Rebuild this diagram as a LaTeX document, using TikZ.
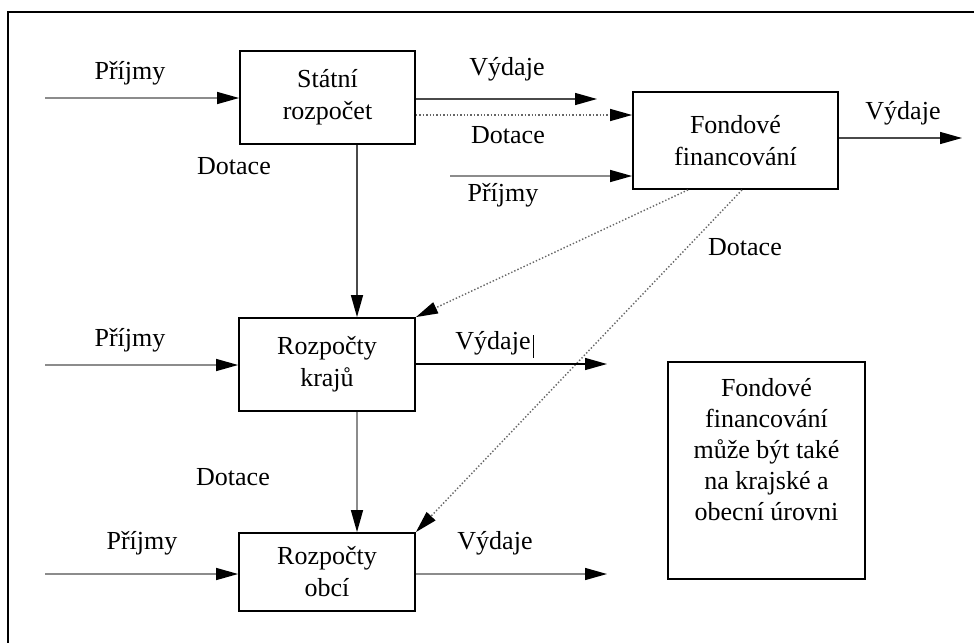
\documentclass[tikz,border=0pt]{standalone}
\usepackage{fontspec}
\setmainfont{Liberation Serif}
\usetikzlibrary{arrows.meta}
\definecolor{lgray}{HTML}{8C8C8C}
\definecolor{dgray}{HTML}{4A4A4A}
\tikzset{
  box/.style={draw=black, line width=0.9pt, align=center, inner sep=0pt, font=\fontsize{13}{16}\selectfont},
  lbl/.style={font=\fontsize{13}{16}\selectfont, inner sep=0pt},
  arr/.style={line width=0.7pt, -{Triangle[length=11pt,width=6pt,color=black]}},
  dots/.style={draw=gray!80!black, line width=0.7pt, densely dotted},
}
\begin{document}
\begin{tikzpicture}[x=0.5pt, y=-0.5pt]
\useasboundingbox (0,0) rectangle (974,643);
% frame (top and left edges)
\draw[line width=1.1pt] (974,12) -- (8,12) -- (8,643);

% boxes
\node[box, minimum width=87.5pt, minimum height=46.5pt] (stat) at (327.5,97.5) {Státní\\rozpočet};
\node[box, minimum width=102.5pt, minimum height=48.5pt] (fond) at (735.5,140.5) {Fondové\\financování};
\node[box, minimum width=88pt, minimum height=46.5pt] (kraj) at (327,364.5) {Rozpočty\\krajů};
\node[box, minimum width=88pt, minimum height=39pt] (obce) at (327,572) {Rozpočty\\obcí};
\node[box, minimum width=98.5pt, minimum height=108.5pt, anchor=north] (note) at (766.5,361) {};
\node[lbl, align=center, font=\fontsize{13}{15.5}\selectfont, anchor=north] (notetext) at (766.5,378) {Fondové\\financování\\může být také\\na krajské a\\obecní úrovni};

% labels
\node[lbl] (p1) at (130,73) {Příjmy};
\node[lbl] (d1) at (234,166) {Dotace};
\node[lbl] (v1) at (507,69) {Výdaje};
\node[lbl] (d2) at (508,135) {Dotace};
\node[lbl] (p2) at (503,195) {Příjmy};
\node[lbl] (v2) at (903,113) {Výdaje};
\node[lbl] (d3) at (745,247) {Dotace};
\node[lbl] (p3) at (130,340) {Příjmy};
\node[lbl] (v3) at (493,343) {Výdaje};
\node[lbl] (d4) at (233,477) {Dotace};
\node[lbl] (p4) at (142,543) {Příjmy};
\node[lbl] (v4) at (495,543) {Výdaje};
\draw[line width=0.5pt] (533,335) -- (533,358);

% free ends
\coordinate (p1s) at (45,98);
\coordinate (v1e) at (597,99);
\coordinate (p2s) at (450,176);
\coordinate (v2e) at (962,138);
\coordinate (p3s) at (45,365);
\coordinate (v3e) at (607,364);
\coordinate (p4s) at (45,574);
\coordinate (v4e) at (607,574);

% connectors
\draw[arr, draw=lgray] (p1s) -- (p1s -| stat.west);
\draw[arr, draw=dgray] (stat.east |- v1e) -- (v1e);
\draw[arr, dots] (stat.east |- 0,115) -- (fond.west |- 0,115);
\draw[arr, draw=lgray] (p2s) -- (p2s -| fond.west);
\draw[arr, draw=dgray] (fond.east |- v2e) -- (v2e);
\draw[arr, draw=dgray] (stat.south -| 357,0) -- (kraj.north -| 357,0);
\draw[arr, dots] (fond.south -| 688,0) -- (kraj.north east);
\draw[arr, dots] (fond.south -| 742,0) -- (obce.north east);
\draw[arr, draw=lgray] (p3s) -- (p3s -| kraj.west);
\draw[arr, draw=black] (kraj.east |- v3e) -- (v3e);
\draw[arr, draw=lgray] (kraj.south -| 357,0) -- (obce.north -| 357,0);
\draw[arr, draw=lgray] (p4s) -- (p4s -| obce.west);
\draw[arr, draw=lgray] (obce.east |- v4e) -- (v4e);
\end{tikzpicture}
\end{document}
